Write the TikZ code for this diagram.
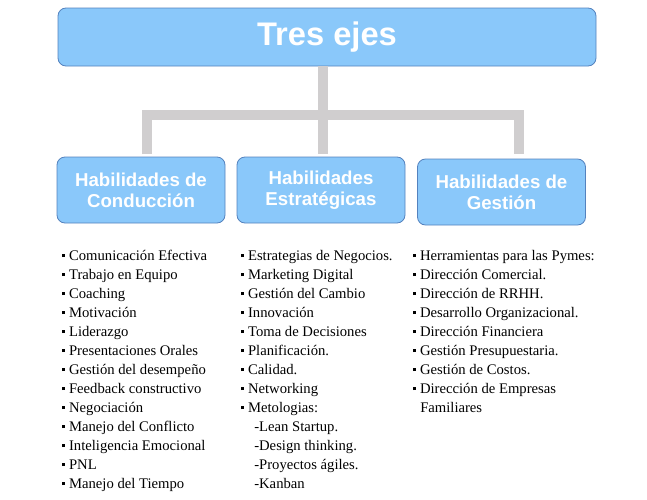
\documentclass[tikz,border=0pt]{standalone}
\usepackage{fontspec}
\setmainfont{Liberation Serif}
\newfontfamily\headfont{Liberation Sans}
\usetikzlibrary{positioning, calc}
\definecolor{boxfill}{RGB}{138,200,250}
\definecolor{boxline}{RGB}{84,130,190}
\definecolor{linkgray}{RGB}{208,206,207}
\tikzset{%
  mainbox/.style = {draw = boxline, fill = boxfill, rounded corners = 6pt,
    line width = 0.6pt, text = white, inner sep = 0pt,
    font = \headfont\bfseries\fontsize{24.5}{28}\selectfont,
    minimum width = 403.5pt, minimum height = 43.5pt},
  subbox/.style  = {draw = boxline, fill = boxfill, rounded corners = 6pt,
    line width = 0.6pt, text = white, align = center, inner sep = 0pt,
    font = \headfont\bfseries\fontsize{14}{15.75}\selectfont,
    minimum width = 126pt, minimum height = 49.5pt},
  item/.style    = {anchor = base west, inner sep = 0pt,
    font = \fontsize{11}{14.25}\selectfont}, % list line
  link/.style    = {draw = linkgray, line width = 7.5pt} % grey connector
}
\newcommand{\bul}{\rule[2.2pt]{2.3pt}{2.3pt}\hspace{2.8pt}\ignorespaces}

\begin{document}
\begin{tikzpicture}[x = 0.75pt, y = -0.75pt]
\useasboundingbox (0,0) rectangle (647,500);
%header blocks
\node [mainbox] (ejes) at (327,37) {Tres ejes};
\node [subbox] (cond) at (141,190) {Habilidades de\\Conducción};
\node [subbox] (estr) at (321,190) {Habilidades\\Estratégicas};
\node [subbox] (gest) at (501.5,192) {Habilidades de\\Gestión};
%connector lines
\coordinate (stem) at (323,115);
\coordinate (legA) at (147,154);
\coordinate (legB) at (323,154);
\coordinate (legC) at (519,154);
\draw[link] (ejes.south -| stem) -- (stem);
\draw[link] (legA) -- (legA |- stem) -- (legC |- stem) -- (legC);
\draw[link] (stem) -- (legB);
%skill lists
\foreach \txt [count = \i] in {Comunicación Efectiva, Trabajo en Equipo,
    Coaching, Motivación, Liderazgo, Presentaciones Orales,
    Gestión del desempeño, Feedback constructivo, Negociación,
    Manejo del Conflicto, Inteligencia Emocional, PNL, Manejo del Tiempo}
  \node [item] (cond\i) at (62,{241+19*\i}) {\bul\txt};
\foreach \txt [count = \i] in {Estrategias de Negocios., Marketing Digital,
    Gestión del Cambio, Innovación, Toma de Decisiones, Planificación.,
    Calidad., Networking, Metologias:}
  \node [item] (estr\i) at (241,{241+19*\i}) {\bul\txt};
\foreach \txt [count = \i from 10] in {-Lean Startup., -Design thinking.,
    -Proyectos ágiles., -Kanban}
  \node [item] (estr\i) at (254,{241+19*\i}) {\ignorespaces\txt};
\foreach \txt [count = \i] in {Herramientas para las Pymes:,
    Dirección Comercial., Dirección de RRHH., Desarrollo Organizacional.,
    Dirección Financiera, Gestión Presupuestaria., Gestión de Costos.,
    Dirección de Empresas}
  \node [item] (gest\i) at (413,{241+19*\i}) {\bul\txt};
\node [item] (gest9) at (420,412) {Familiares};
\end{tikzpicture}
\end{document}
